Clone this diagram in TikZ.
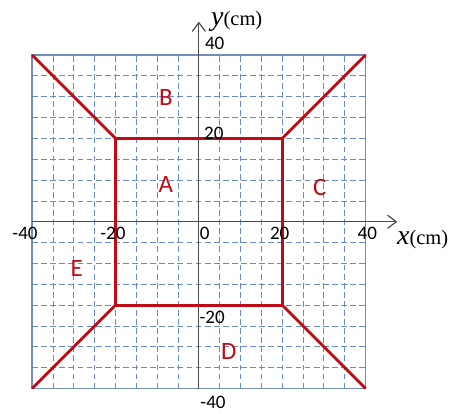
\documentclass[tikz,border=0pt]{standalone}
\usepackage{fontspec}
\setmainfont{Carlito}
\newfontfamily\axisfont{Liberation Serif}
\usetikzlibrary{arrows.meta, positioning}
\definecolor{myred}{RGB}{192,10,20}
\definecolor{mygrid}{RGB}{105,140,200}
\definecolor{myframe}{RGB}{115,140,185}
\definecolor{myaxis}{RGB}{75,75,80}
\tikzset{
  gridline/.style={mygrid, dash pattern=on 4pt off 2.2pt, line width=0.6pt},
  frameline/.style={myframe, line width=0.9pt},
  axisline/.style={myaxis, line width=0.8pt, -{Straight Barb[length=6pt, width=9pt]}},
  redline/.style={myred, line width=2pt},
  ticklabel/.style={font=\fontsize{13}{15}\selectfont, inner sep=0pt},
  region/.style={text=myred, font=\fontsize{17}{20}\selectfont, inner sep=0pt},
  axislabel/.style={font=\axisfont\fontsize{19}{22}\selectfont, inner sep=0pt}
}

\begin{document}
\begin{tikzpicture}[x=0.1cm, y=0.1cm]
  \useasboundingbox (-47.7,-46.0) rectangle (60.0,53.2);

  % Grid
  \foreach \g in {-35,-30,...,35} {
    \draw[gridline] (\g,-40) -- (\g,40);
    \draw[gridline] (-40,\g) -- (40,\g);
  }
  \draw[frameline] (-40,-40) rectangle (40,40);

  % Axes
  \coordinate (xstart) at (-40,0);
  \coordinate (xend) at (47.6,0);
  \coordinate (ystart) at (0,-40);
  \coordinate (yend) at (0,48);
  \draw[axisline] (xstart) -- (xend);
  \draw[axisline] (ystart) -- (yend);

  % Corners
  \coordinate (inNE) at (20,20);
  \coordinate (inNW) at (-20,20);
  \coordinate (inSW) at (-20,-20);
  \coordinate (inSE) at (20,-20);
  \coordinate (outNE) at (40,40);
  \coordinate (outNW) at (-40,40);
  \coordinate (outSW) at (-40,-40);
  \coordinate (outSE) at (40,-40);

  % Red outline
  \draw[redline] (inNE) -- (inNW) -- (inSW) -- (inSE) -- cycle;
  \draw[redline] (inNE) -- (outNE);
  \draw[redline] (inNW) -- (outNW);
  \draw[redline] (inSW) -- (outSW);
  \draw[redline] (inSE) -- (outSE);

  % Tick labels
  \node[ticklabel] (ytick40) at (3.8,42.7) {40};
  \node[ticklabel] (ytick20) at (3.6,21.3) {20};
  \node[ticklabel] (ytickm20) at (3.2,-23.0) {-20};
  \node[ticklabel] (ytickm40) at (3.4,-43.4) {-40};
  \node[ticklabel] (xtickm40) at (-41.7,-2.9) {-40};
  \node[ticklabel] (xtickm20) at (-20.6,-2.9) {-20};
  \node[ticklabel] (xtick0) at (1.4,-2.9) {0};
  \node[ticklabel] (xtick20) at (19.4,-2.9) {20};
  \node[ticklabel] (xtick40) at (40.4,-2.9) {40};

  % Axis labels
  \node[axislabel, anchor=base west] (ylabel) at (2.9,47.2) {\itshape y\upshape\fontsize{14}{16}\selectfont(cm)};
  \node[axislabel, anchor=base west] (xlabel) at (47.5,-5.5) {\itshape x\upshape\fontsize{14}{16}\selectfont(cm)};

  % Regions
  \node[region] (regA) at (-7.9,8.9) {A};
  \node[region] (regB) at (-7.9,29.7) {B};
  \node[region] (regC) at (29.0,8.2) {C};
  \node[region] (regD) at (7.2,-31.2) {D};
  \node[region] (regE) at (-29.3,-11.3) {E};

\end{tikzpicture}
\end{document}
